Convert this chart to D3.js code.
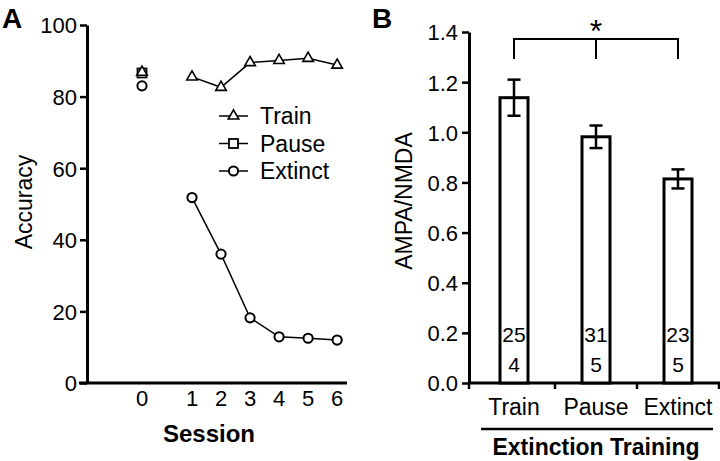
<!DOCTYPE html>
<html><head><meta charset="utf-8">
<script src="https://cdn.jsdelivr.net/npm/d3@7"></script>
<style>body{margin:0;background:#fff} svg text{font-family:"Liberation Sans",Arial,Helvetica,sans-serif;fill:#000}</style>
</head><body><svg id="c" width="720" height="461"></svg>
<script>
// ---------- Panel A data ----------
const sessions = [1, 2, 3, 4, 5, 6];
const trainAcc = [85.5, 82.6, 89.5, 90.1, 90.7, 88.8];
const extinctAcc = [51.8, 36.0, 18.2, 12.9, 12.5, 12.0];
const baselineGroups = ["Pause", "Train", "Extinct"];
const baselineAcc = [86.6, 86.8, 83.0];
const sessionTicks = [0, 1, 2, 3, 4, 5, 6];
const accTicks = [0, 20, 40, 60, 80, 100];
const legendNames = ["Train", "Pause", "Extinct"];

// ---------- Panel B data ----------
const groups = ["Train", "Pause", "Extinct"];
const ratio = [1.138, 0.982, 0.814];
const sem = [0.072, 0.045, 0.038];
const nCells = ["25", "31", "23"];
const nAnimals = ["4", "5", "5"];
const ratioTicks = [0, 0.2, 0.4, 0.6, 0.8, 1.0, 1.2, 1.4];
const sigLevel = [1.372, 1.292];

const svg = d3.select("#c");
const FS = 22;

function symbol(g, type, cx, cy) {
  if (type === "Train") {
    const s = d3.symbol().type(d3.symbolTriangle).size(48);
    g.append("path").attr("d", s()).attr("transform", `translate(${cx},${cy})`)
      .attr("fill", "#fff").attr("stroke", "#000").attr("stroke-width", 1.6);
  } else if (type === "Pause") {
    g.append("rect").attr("x", cx - 4.5).attr("y", cy - 4.5).attr("width", 9).attr("height", 9)
      .attr("fill", "#fff").attr("stroke", "#000").attr("stroke-width", 1.8);
  } else {
    g.append("circle").attr("cx", cx).attr("cy", cy).attr("r", 4.6)
      .attr("fill", "#fff").attr("stroke", "#000").attr("stroke-width", 2);
  }
}

// ================= Panel A =================
const gA = svg.append("g");
const xA = d3.scaleLinear().domain([-2.62, 0, 1, 6.34]).range([87, 142, 192, 347]);
const yA = d3.scaleLinear().domain([0, 100]).range([383, 25]);

const axA = gA.append("g").attr("transform", "translate(87,0)")
  .call(d3.axisLeft(yA).tickValues(accTicks).tickSize(7).tickSizeOuter(0).tickPadding(3));
axA.select(".domain").attr("stroke-width", 3);
axA.selectAll(".tick line").attr("stroke-width", 2.5);
axA.selectAll(".tick text").style("font-size", FS + "px").attr("dy", "0.36em");

gA.append("line").attr("x1", 79).attr("x2", xA.range()[3]).attr("y1", yA(0)).attr("y2", yA(0))
  .attr("stroke", "#000").attr("stroke-width", 3);
gA.selectAll(".xt").data(sessionTicks).join("text").attr("class", "xt")
  .attr("x", d => xA(d)).attr("y", 406).attr("text-anchor", "middle")
  .style("font-size", FS + "px").text(d => d);

gA.append("text").attr("transform", "translate(32,202) rotate(-90)").attr("text-anchor", "middle")
  .style("font-size", "23px").text("Accuracy");
gA.append("text").attr("x", 209).attr("y", 442).attr("text-anchor", "middle")
  .style("font-size", "24px").style("font-weight", "bold").text("Session");
gA.append("text").attr("x", 2).attr("y", 28).style("font-size", "28px").style("font-weight", "bold").text("A");

const line = d3.line().x(d => xA(d[0])).y(d => yA(d[1]));
gA.append("path").datum(sessions.map((s, i) => [s, trainAcc[i]])).attr("d", line)
  .attr("fill", "none").attr("stroke", "#000").attr("stroke-width", 1.5);
gA.append("path").datum(sessions.map((s, i) => [s, extinctAcc[i]])).attr("d", line)
  .attr("fill", "none").attr("stroke", "#000").attr("stroke-width", 1.5);
sessions.forEach((s, i) => symbol(gA, "Train", xA(s), yA(trainAcc[i])));
sessions.forEach((s, i) => symbol(gA, "Extinct", xA(s), yA(extinctAcc[i])));
baselineGroups.forEach((g, i) => symbol(gA, g, xA(0), yA(baselineAcc[i])));

// legend
legendNames.forEach((n, i) => {
  const ly = 116 + i * 27.5;
  gA.append("line").attr("x1", 219).attr("x2", 248).attr("y1", ly).attr("y2", ly)
    .attr("stroke", "#000").attr("stroke-width", 1.5);
  symbol(gA, n, 233.5, ly);
  gA.append("text").attr("x", 260).attr("y", ly + 8).style("font-size", "23px").text(n);
});

// ================= Panel B =================
const gB = svg.append("g");
const yB = d3.scaleLinear().domain([0, 1.4]).range([383, 32]);
const xB = d3.scaleBand().domain(groups).range([473, 719]).paddingInner(0).paddingOuter(0);
const barW = 28;

const axB = gB.append("g").attr("transform", "translate(469,0)")
  .call(d3.axisLeft(yB).tickValues(ratioTicks).tickFormat(d3.format(".1f")).tickSize(7).tickSizeOuter(0).tickPadding(4));
axB.select(".domain").attr("stroke-width", 3);
axB.selectAll(".tick line").attr("stroke-width", 2.5);
axB.selectAll(".tick text").style("font-size", FS + "px").attr("dy", "0.36em");

// x axis
gB.append("line").attr("x1", 469).attr("x2", 720).attr("y1", yB(0)).attr("y2", yB(0))
  .attr("stroke", "#000").attr("stroke-width", 3);
const bounds = [469].concat(groups.slice(1).map(g => xB(g)), [xB.range()[1]]);
gB.selectAll(".bt").data(bounds).join("line").attr("class", "bt")
  .attr("x1", d => d).attr("x2", d => d).attr("y1", yB(0)).attr("y2", yB(0) + 6)
  .attr("stroke", "#000").attr("stroke-width", 2.5);

const cx = g => xB(g) + xB.bandwidth() / 2;
gB.selectAll(".bar").data(groups).join("rect").attr("class", "bar")
  .attr("x", g => cx(g) - barW / 2).attr("width", barW)
  .attr("y", (g, i) => yB(ratio[i])).attr("height", (g, i) => yB(0) - yB(ratio[i]))
  .attr("fill", "#fff").attr("stroke", "#000").attr("stroke-width", 3);

groups.forEach((g, i) => {
  const x = cx(g);
  const hi = yB(ratio[i] + sem[i]), lo = yB(ratio[i] - sem[i]);
  gB.append("line").attr("x1", x).attr("x2", x).attr("y1", hi).attr("y2", lo).attr("stroke", "#000").attr("stroke-width", 2.5);
  [hi, lo].forEach(y => gB.append("line").attr("x1", x - 6.5).attr("x2", x + 6.5).attr("y1", y).attr("y2", y)
    .attr("stroke", "#000").attr("stroke-width", 2.5));
  gB.append("text").attr("x", x).attr("y", 342).attr("text-anchor", "middle").style("font-size", "21px").text(nCells[i]);
  gB.append("text").attr("x", x).attr("y", 372).attr("text-anchor", "middle").style("font-size", "21px").text(nAnimals[i]);
  gB.append("text").attr("x", x).attr("y", 415).attr("text-anchor", "middle").style("font-size", "23px").text(g);
});

// significance bracket
const bTop = yB(sigLevel[0]), bBot = yB(sigLevel[1]);
const bx = groups.map(cx);
gB.append("path").attr("d", `M${bx[0]},${bBot}V${bTop}H${bx[2]}V${bBot}M${bx[1]},${bTop}V${bBot}`)
  .attr("fill", "none").attr("stroke", "#000").attr("stroke-width", 2);
gB.append("text").attr("x", bx[1]).attr("y", 42).attr("text-anchor", "middle").style("font-size", "32px").text("*");

gB.append("line").attr("x1", 481).attr("x2", 713).attr("y1", 429).attr("y2", 429).attr("stroke", "#000").attr("stroke-width", 2.5);
gB.append("text").attr("x", 596).attr("y", 455).attr("text-anchor", "middle")
  .style("font-size", "23px").style("font-weight", "bold").text("Extinction Training");
gB.append("text").attr("transform", "translate(412,201) rotate(-90)").attr("text-anchor", "middle")
  .style("font-size", "23px").text("AMPA/NMDA");
gB.append("text").attr("x", 372).attr("y", 28).style("font-size", "28px").style("font-weight", "bold").text("B");
</script></body></html>
